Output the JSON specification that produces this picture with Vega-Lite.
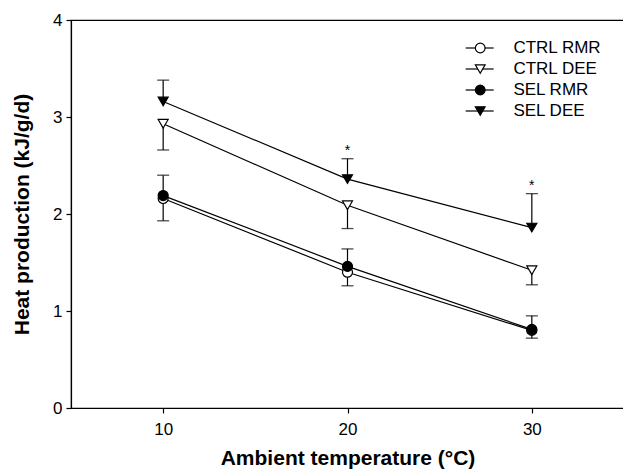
{
  "$schema": "https://vega.github.io/schema/vega-lite/v6.json",
  "autosize": {"type": "none"},
  "padding": {"left": 71, "top": 20, "right": 0, "bottom": 67},
  "width": 553,
  "height": 388,
  "background": "white",
  "config": {
    "font": "Liberation Sans",
    "view": {"stroke": "black", "strokeWidth": 1.2},
    "axis": {
      "domainColor": "black", "domainWidth": 1.2, "tickColor": "black", "tickWidth": 1.2,
      "tickSize": 5, "labelColor": "black", "labelFontSize": 17, "labelFont": "Liberation Sans",
      "titleColor": "black", "titleFontSize": 21, "titleFontWeight": "bold", "titleFont": "Liberation Sans",
      "grid": false
    }
  },
  "datasets": {
    "main": [
      {"series": "CTRL RMR", "temp": 10, "mean": 2.16, "err": 1.93},
      {"series": "CTRL RMR", "temp": 20, "mean": 1.40, "err": 1.26},
      {"series": "CTRL RMR", "temp": 30, "mean": 0.80, "err": 0.72},
      {"series": "CTRL DEE", "temp": 10, "mean": 2.93, "err": 2.66},
      {"series": "CTRL DEE", "temp": 20, "mean": 2.09, "err": 1.85},
      {"series": "CTRL DEE", "temp": 30, "mean": 1.42, "err": 1.27},
      {"series": "SEL RMR", "temp": 10, "mean": 2.19, "err": 2.40},
      {"series": "SEL RMR", "temp": 20, "mean": 1.46, "err": 1.64},
      {"series": "SEL RMR", "temp": 30, "mean": 0.81, "err": 0.95},
      {"series": "SEL DEE", "temp": 10, "mean": 3.16, "err": 3.38},
      {"series": "SEL DEE", "temp": 20, "mean": 2.36, "err": 2.57},
      {"series": "SEL DEE", "temp": 30, "mean": 1.86, "err": 2.21}
    ],
    "stars": [
      {"temp": 20, "y": 2.61, "label": "*"},
      {"temp": 30, "y": 2.25, "label": "*"}
    ]
  },
  "resolve": {"scale": {"y": "independent"}, "axis": {"y": "independent"}},
  "layer": [
    {
      "layer": [
        {
          "data": {"name": "main"},
          "mark": {"type": "rule", "color": "black", "strokeWidth": 1.2},
          "encoding": {
            "x": {"field": "temp", "type": "quantitative", "scale": {"domain": [5, 35], "nice": false},
                  "axis": {"values": [10, 20, 30], "format": "d", "title": "Ambient temperature (°C)", "labelPadding": 8, "titlePadding": 10}},
            "y": {"field": "mean", "type": "quantitative", "scale": {"domain": [0, 4], "nice": false},
                  "axis": {"values": [0, 1, 2, 3, 4], "format": "d", "title": "Heat production (kJ/g/d)", "labelPadding": 4, "titlePadding": 20}},
            "y2": {"field": "err"}
          }
        },
        {
          "data": {"name": "main"},
          "mark": {"type": "tick", "orient": "horizontal", "color": "black", "size": 12, "thickness": 1.3},
          "encoding": {
            "x": {"field": "temp", "type": "quantitative"},
            "y": {"field": "err", "type": "quantitative"}
          }
        },
        {
          "data": {"name": "main"},
          "mark": {"type": "line", "color": "black", "strokeWidth": 1.2},
          "encoding": {
            "x": {"field": "temp", "type": "quantitative"},
            "y": {"field": "mean", "type": "quantitative"},
            "detail": {"field": "series"}
          }
        },
        {
          "data": {"name": "main"},
          "mark": {"type": "point", "filled": true, "stroke": "black", "strokeWidth": 1.2, "size": 100, "opacity": 1},
          "encoding": {
            "x": {"field": "temp", "type": "quantitative"},
            "y": {"field": "mean", "type": "quantitative"},
            "shape": {"field": "series", "type": "nominal", "sort": null, "legend": null,
                      "scale": {"domain": ["CTRL RMR", "CTRL DEE", "SEL RMR", "SEL DEE"], "range": ["circle", "triangle-down", "circle", "triangle-down"]}},
            "fill": {"field": "series", "type": "nominal", "sort": null, "legend": null,
                     "scale": {"domain": ["CTRL RMR", "CTRL DEE", "SEL RMR", "SEL DEE"], "range": ["white", "white", "black", "black"]}}
          }
        },
        {
          "data": {"name": "stars"},
          "mark": {"type": "text", "fontSize": 14, "color": "black", "baseline": "alphabetic", "font": "Liberation Sans"},
          "encoding": {
            "x": {"field": "temp", "type": "quantitative"},
            "y": {"field": "y", "type": "quantitative"},
            "text": {"field": "label"}
          }
        }
      ]
    },
    {
      "data": {"name": "main"},
      "transform": [{"filter": "datum.temp === 10"}],
      "encoding": {
        "y": {"field": "series", "type": "nominal", "sort": null, "axis": null,
              "scale": {"type": "point", "padding": 0, "domain": ["CTRL RMR", "CTRL DEE", "SEL RMR", "SEL DEE"], "range": [28, 91]}}
      },
      "layer": [
        {
          "mark": {"type": "rule", "color": "black", "strokeWidth": 1.2},
          "encoding": {"x": {"datum": 26.41, "type": "quantitative"}, "x2": {"datum": 27.93}}
        },
        {
          "mark": {"type": "point", "filled": true, "stroke": "black", "strokeWidth": 1.2, "size": 95, "opacity": 1},
          "encoding": {
            "x": {"datum": 27.2, "type": "quantitative"},
            "shape": {"field": "series", "type": "nominal", "sort": null, "legend": null},
            "fill": {"field": "series", "type": "nominal", "sort": null, "legend": null}
          }
        },
        {
          "mark": {"type": "text", "align": "left", "baseline": "middle", "fontSize": 17, "color": "black", "font": "Liberation Sans"},
          "encoding": {
            "x": {"datum": 29.0, "type": "quantitative"},
            "text": {"field": "series"}
          }
        }
      ]
    }
  ]
}
